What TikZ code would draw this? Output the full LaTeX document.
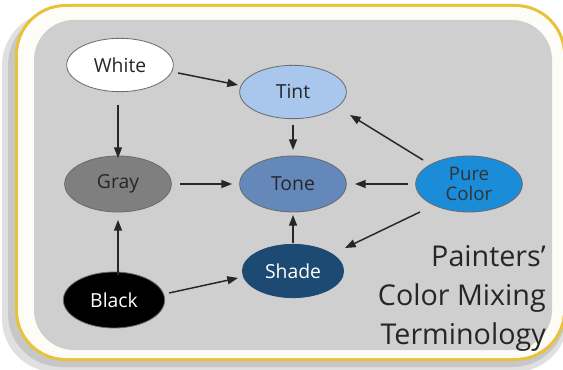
\documentclass[tikz,border=0pt]{standalone}
\usepackage{fontspec}
\setmainfont{Open Sans}
\usetikzlibrary{arrows.meta,shapes.geometric,calc}
\definecolor{bgray}{HTML}{CFCFCF}
\definecolor{gold}{HTML}{E8C23A}
\definecolor{tintc}{HTML}{A9C6EC}
\definecolor{grayc}{HTML}{7F7F7F}
\definecolor{tonec}{HTML}{6488BA}
\definecolor{purec}{HTML}{1A8CD8}
\definecolor{shadec}{HTML}{1D4A72}
\definecolor{edgec}{HTML}{6A6A6A}
\tikzset{
  blob/.style={ellipse, draw=edgec, line width=0.6pt, minimum width=#1, minimum height=40pt, inner sep=0pt, font=\fontsize{14.5}{15}\selectfont, text=black!85},
  blob/.default=80pt,
  arr/.style={-{Triangle[length=8pt,width=6pt]}, line width=1.1pt, black!85}
}
\begin{document}
\begin{tikzpicture}[x=0.75pt,y=-0.75pt]
\useasboundingbox (0,0) rectangle (563,370);
\fill[white] (0,0) rectangle (563,370);
% shadow
\fill[black!12, rounded corners=40] (2,12) rectangle (568,372);
\fill[black!22, rounded corners=40] (8,12) rectangle (566,367);
\fill[gold, rounded corners=38] (15,4) rectangle (566,361);
\fill[white!96!gold, rounded corners=36] (18,7) rectangle (563,358);
\fill[bgray, rounded corners=30] (34,20) rectangle (552,350);

\node[blob, fill=white] (white) at (120,65) {White};
\node[blob, fill=tintc] (tint) at (293,92) {Tint};
\node[blob, fill=grayc, minimum height=42pt] (gray) at (118,184) {Gray};
\node[blob, fill=tonec, minimum height=42pt] (tone) at (293,184) {Tone};
\node[blob, fill=purec, minimum height=42pt, align=center, text=black!80, font=\fontsize{14}{15}\selectfont] (pure) at (469,184) {Pure\\Color};
\node[blob=76pt, fill=shadec, draw=shadec, text=white!90] (shade) at (293,271) {Shade};
\node[blob=76pt, fill=black, minimum height=42pt, text=white!90] (black) at (114,300) {Black};

\node[align=right, anchor=north east, font=\fontsize{21.5}{29.5}\selectfont, text=black!85, inner sep=0pt] (title) at (546,245) {Painters’\\Color Mixing\\Terminology};

\draw[arr] ($(white)+(58,8)$) -- ($(tint)+(-55,-7)$);
\draw[arr] ($(white)+(-2,40)$) -- ($(gray)+(0,-26)$);
\draw[arr] ($(tint)+(0,33)$) -- ($(tone)+(0,-34)$);
\draw[arr] ($(gray)+(62,0)$) -- ($(tone)+(-61,0)$);
\draw[arr] ($(pure)+(-61,0)$) -- ($(tone)+(62,0)$);
\draw[arr] ($(pure)+(-46,-24)$) -- ($(tint)+(57,23)$);
\draw[arr] ($(pure)+(-49,28)$) -- ($(shade)+(52,-23)$);
\draw[arr] ($(shade)+(0,-28)$) -- ($(tone)+(0,31)$);
\draw[arr] ($(black)+(4,-25)$) -- ($(gray)+(0,36)$);
\draw[arr] ($(black)+(55,-7)$) -- ($(shade)+(-55,7)$);
\end{tikzpicture}
\end{document}
